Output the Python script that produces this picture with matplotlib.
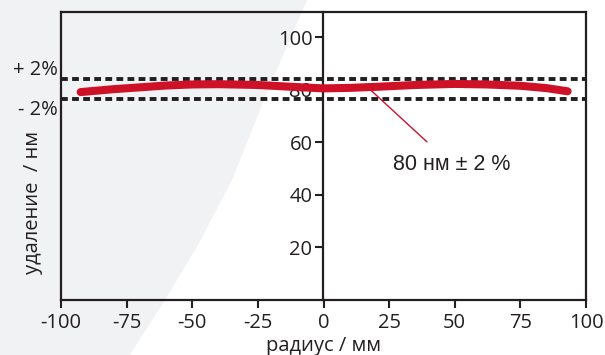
import matplotlib
matplotlib.use("Agg")
import matplotlib.pyplot as plt
from matplotlib.patches import Polygon
import numpy as np

# data
radius = [-92.5, -80, -70, -60, -50, -40, -25, -10, 0, 10, 20, 35, 50, 62, 75, 85, 93]
removal = [79.2, 80.3, 81.0, 81.7, 82.1, 82.2, 81.9, 81.1, 80.6, 80.8, 81.2, 81.9, 82.3, 82.1, 81.6, 80.7, 79.5]
upper_limit = 84.3
lower_limit = 76.5
xticks = [-100, -75, -50, -25, 0, 25, 50, 75, 100]
yticks = [20, 40, 60, 80, 100]
annot_text = "80 нм ± 2 %"
annot_xy = (17.5, 80.4)
annot_text_xy = (48.8, 51.6)

TICKFONT = "Open Sans"
RED = "#cf1128"
DARK = "#231f20"

W, H = 605, 355
fig = plt.figure(figsize=(W / 100, H / 100), dpi=100)
fig.patch.set_facecolor("white")

# light grey background decorative shape
shape = [(0, 0), (307, 0), (268, 90), (232, 180), (198, 245), (165, 300), (130, 355), (0, 355)]
poly = Polygon([(x / W, 1 - y / H) for x, y in shape], closed=True,
               transform=fig.transFigure, facecolor="#f1f2f4", edgecolor="none", zorder=-5)
fig.patches.append(poly)

left, right, top, bottom = 61, 586, 12, 300
ax = fig.add_axes([left / W, 1 - bottom / H, (right - left) / W, (bottom - top) / H])
ax.patch.set_alpha(0)
ax.set_xlim(-100, 100)
ax.set_ylim(0, 109.7)

for s in ax.spines.values():
    s.set_linewidth(1.6)
    s.set_color(DARK)

ax.set_xticks(xticks)
ax.set_xticklabels([str(v) for v in xticks], fontfamily=TICKFONT)
ax.set_yticks([])
ax.tick_params(axis="x", direction="out", length=6, width=1.5, color=DARK,
               labelsize=14.5, labelcolor=DARK, pad=3)

# central y axis at x = 0
sec = ax.secondary_yaxis(0.5)
sec.set_alignment("left")
sec.set_yticks(yticks)
sec.set_yticklabels([str(v) for v in yticks], fontfamily=TICKFONT)
sec.tick_params(axis="y", direction="out", length=6, width=1.5, color=DARK,
                labelsize=14.5, labelcolor=DARK, pad=2)
for s in sec.spines.values():
    s.set_linewidth(1.6)
    s.set_color(DARK)

# limit lines
for yv in (upper_limit, lower_limit):
    ax.axhline(yv, color=DARK, lw=2.8, dashes=(1.75, 1.1), zorder=3)

ax.plot(radius, removal, color=RED, lw=5.8, solid_capstyle="round", zorder=4)

ax.annotate(annot_text, xy=annot_xy, xytext=annot_text_xy, ha="center", va="center",
            fontsize=15.5, family="Liberation Sans", color=DARK,
            arrowprops=dict(arrowstyle="-", color=RED, lw=1.0,
                            shrinkA=10, shrinkB=0))

ax.text(-101.3, 87.7, "+ 2%", ha="right", va="center", fontsize=14.5,
        family=TICKFONT, color=DARK, clip_on=False)
ax.text(-101.3, 72.5, "- 2%", ha="right", va="center", fontsize=14.5,
        family=TICKFONT, color=DARK, clip_on=False)

ax.set_xlabel("радиус / мм", fontsize=14.5, family=TICKFONT, color=DARK, va="baseline")
ax.xaxis.set_label_coords(0.5, -0.177)
ax.set_ylabel("удаление  / нм", fontsize=14.5, family=TICKFONT, color=DARK)
ax.yaxis.set_label_coords(-0.034, 0.337)

fig.savefig("out.png", dpi=100)
